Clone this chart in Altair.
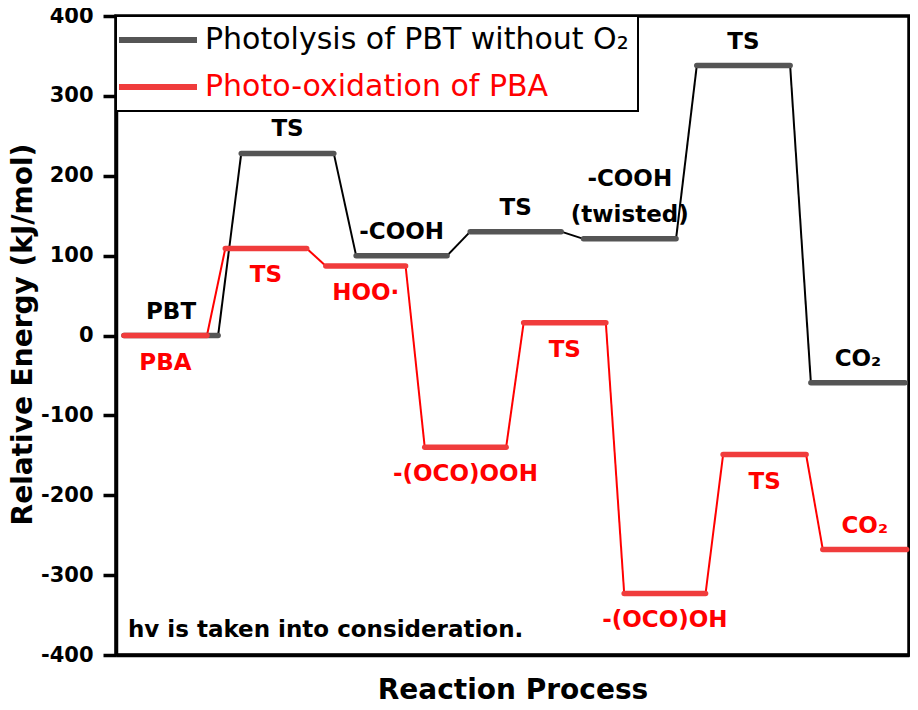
import altair as alt
import pandas as pd

# ---- data ----
series_names = ["Photolysis of PBT without O₂", "Photo-oxidation of PBA"]

# PBT (black) levels: start, end of each plateau (reaction coordinate), energy (kJ/mol)
pbt_start = [0.10, 1.57, 3.01, 4.44, 5.86, 7.28, 8.71]
pbt_end = [1.28, 2.73, 4.15, 5.58, 7.02, 8.45, 9.89]
pbt_energy = [0, 228, 100, 130, 121, 338, -59]
pbt_labels = ["PBT", "TS", "-COOH", "TS", "-COOH\n(twisted)", "TS", "CO₂"]
pbt_pos = ["above", "above", "above", "above", "above", "above", "above"]

# PBA (red) levels
pba_start = [0.10, 1.37, 2.63, 3.87, 5.11, 6.37, 7.61, 8.86]
pba_end = [1.14, 2.39, 3.63, 4.89, 6.14, 7.39, 8.65, 9.91]
pba_energy = [0, 109, 87, -140, 16, -323, -149, -268]
pba_labels = ["PBA", "TS", "HOO·", "-(OCO)OOH", "TS", "-(OCO)OH", "TS", "CO₂"]
pba_pos = ["below", "below", "below", "below", "below", "below", "below", "above"]

note = "hv is taken into consideration."

# ---- tables ----
levels, links, labels = [], [], []
for name, st, en, e, lab, pos in [
    (series_names[0], pbt_start, pbt_end, pbt_energy, pbt_labels, pbt_pos),
    (series_names[1], pba_start, pba_end, pba_energy, pba_labels, pba_pos),
]:
    for i in range(len(st)):
        levels.append({"series": name, "x": st[i], "x2": en[i], "y": e[i]})
        lines = lab[i].split("\n")
        for j, line in enumerate(lines):
            labels.append({"series": name, "x": (st[i] + en[i]) / 2, "y": e[i],
                           "text": line, "pos": pos[i],
                           "k": len(lines) - 1 - j})  # line index counted from the level
        if i > 0:
            links.append({"series": name, "x": en[i - 1], "x2": st[i],
                          "y": e[i - 1], "y2": e[i]})

lev_df = pd.DataFrame(levels)
link_df = pd.DataFrame(links)
lab_df = pd.DataFrame(labels)
note_df = pd.DataFrame({"x": [0.15], "y": [-378], "text": [note]})

FONT = "DejaVu Sans"
xs = alt.Scale(domain=[0, 9.94], nice=False)
ys = alt.Scale(domain=[-400, 400], nice=False)

x_enc = alt.X("x:Q", scale=xs, axis=alt.Axis(
    title="Reaction Process", labels=False, ticks=False, grid=False,
    domainColor="black", domainWidth=3.5, titleFont=FONT, titleFontSize=28,
    titleFontWeight="bold", titleColor="black", titlePadding=21))
y_enc = alt.Y("y:Q", scale=ys, axis=alt.Axis(
    title="Relative Energy (kJ/mol)", values=list(range(-400, 401, 50)),
    labelExpr="datum.value % 100 === 0 ? replace(datum.label, '\u2212', '-') : ''",
    tickSize={"condition": {"test": "datum.value % 100 === 0", "value": 13}, "value": 6},
    tickWidth=3.5, tickColor="black", domainColor="black", domainWidth=3.5,
    grid=False, labelFont=FONT, labelFontSize=21, labelFontWeight="bold",
    labelColor="black", labelPadding=10, titleFont=FONT, titleFontSize=28,
    titleFontWeight="bold", titleColor="black", titleX=-79, titleY=318,
    titleAngle=270, titleBaseline="bottom", titleAlign="center"))

col_scale = alt.Scale(domain=series_names, range=["#555555", "#f03c3c"])

level_layer = alt.Chart(lev_df).mark_rule(strokeWidth=5.5, strokeCap="round").encode(
    x=x_enc, x2="x2:Q", y=y_enc,
    color=alt.Color("series:N", scale=col_scale, title=None, legend=alt.Legend(
        orient="top-left", offset=0, symbolType="M-3.9,0H3.9", symbolSize=400,
        symbolStrokeWidth=6, symbolOffset=18, labelFont=FONT, labelFontSize=30,
        labelOffset=32, labelLimit=700, padding=9, rowPadding=17,
        fillColor="white", strokeColor="black",
        labelColor=alt.ExprRef("datum.label == 'Photo-oxidation of PBA' ? '#ff0000' : '#000000'"))),
)

link_layer = alt.Chart(link_df).mark_rule(strokeWidth=2).encode(
    x="x:Q", x2="x2:Q", y="y:Q", y2="y2:Q",
    color=alt.Color("series:N", scale=alt.Scale(domain=series_names, range=["#000000", "#ff0000"]), legend=None),
)

lab_color = alt.Color("series:N", scale=alt.Scale(domain=series_names, range=["#000000", "#ff0000"]), legend=None)

above_layer = alt.Chart(lab_df).transform_filter("datum.pos == 'above' && datum.k == 0").mark_text(
    font=FONT, fontSize=23, fontWeight="bold", baseline="alphabetic", dy=-17
).encode(x="x:Q", y="y:Q", text="text:N", color=lab_color)

above2_layer = alt.Chart(lab_df).transform_filter("datum.pos == 'above' && datum.k == 1").mark_text(
    font=FONT, fontSize=23, fontWeight="bold", baseline="alphabetic", dy=-53
).encode(x="x:Q", y="y:Q", text="text:N", color=lab_color)

below_layer = alt.Chart(lab_df).transform_filter("datum.pos == 'below'").mark_text(
    font=FONT, fontSize=23, fontWeight="bold", baseline="alphabetic", dy=34
).encode(x="x:Q", y="y:Q", text="text:N", color=lab_color)

note_layer = alt.Chart(note_df).mark_text(
    font=FONT, fontSize=23, fontWeight="bold", align="left", baseline="alphabetic", color="black"
).encode(x="x:Q", y="y:Q", text="text:N")

chart = alt.layer(link_layer, level_layer, above_layer, above2_layer, below_layer, note_layer).resolve_scale(
    color="independent"
).properties(
    width=793, height=639,
    autosize=alt.AutoSizeParams(type="none"),
    padding={"left": 108, "top": 8, "right": 1, "bottom": 47},
).configure_view(stroke="black", strokeWidth=3.5).configure_legend(strokeWidth=2, cornerRadius=0)

chart.save("out.html", embed_options={"renderer": "svg", "actions": False})
